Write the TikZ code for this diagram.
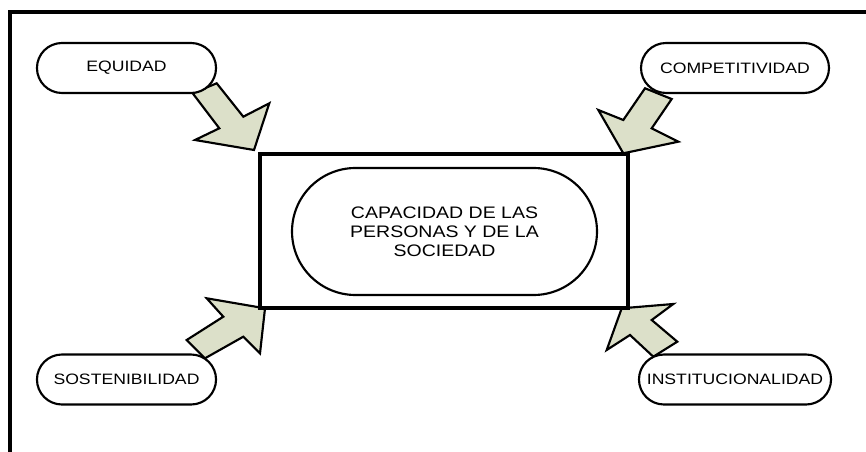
\documentclass[tikz,border=0pt]{standalone}
\usepackage{fontspec}
\setmainfont{Liberation Sans}
\usepackage{tikz}
\definecolor{flechaverde}{RGB}{220,224,201}

\begin{document}
\begin{tikzpicture}[x=0.75pt,y=0.75pt,yscale=-1,xscale=1,
    terminal/.style={draw, line width=1.6pt, fill=white, xscale=1.17, inner sep=0pt,
        minimum height=37.5pt, rounded corners=18.75pt,
        font=\fontsize{11.3}{13}\selectfont},
    flecha/.style={draw, line width=1.6pt, fill=flechaverde}]
    \useasboundingbox (0,0) rectangle (866,452);

    %Outer Frame
    \draw [line width=2.6pt]  (866,12) -- (10,12) -- (10,452) ;

    %Block Arrow (equidad)
    \draw [flecha] (192.7,93.3) -- (219.3,128.3) -- (195,140) -- (254,150) -- (269.3,103.3) -- (243.3,116.7) -- (216.7,83.3) -- cycle ;
    %Block Arrow (competitividad)
    \draw [flecha] (671.7,99) -- (651.7,128.3) -- (678.3,141.7) -- (623.3,153.3) -- (598.3,110) -- (623.3,120) -- (645,88.3) -- cycle ;
    %Block Arrow (sostenibilidad)
    \draw [flecha] (205,358.3) -- (243.3,336.7) -- (260,353.3) -- (265,308.3) -- (206.7,298.3) -- (223.3,316.7) -- (186.7,340) -- cycle ;
    %Block Arrow (institucionalidad)
    \draw [flecha] (653.3,356.7) -- (630,335) -- (606.7,350) -- (621.7,308.3) -- (673.3,304) -- (651.7,320) -- (677.3,341.7) -- cycle ;

    %Rectangle
    \node [draw, line width=2.6pt, minimum width=276pt, minimum height=115.5pt, inner sep=0pt] (caja) at (444,231) {};

    %Flowchart: Terminator
    \node [terminal, minimum width=195.5pt, minimum height=95.25pt, rounded corners=47.6pt,
        align=center, font=\fontsize{12.5}{14.25}\selectfont] (capacidad) at (444.5,231.5)
        {CAPACIDAD DE LAS\\PERSONAS Y DE LA\\SOCIEDAD};

    % Text Node
    \node [terminal, minimum width=114.8pt] (equidad) at (126.5,68) {EQUIDAD};
    % Text Node
    \node [terminal, minimum width=120.5pt] (competitividad) at (735,68) {COMPETITIVIDAD};
    % Text Node
    \node [terminal, minimum width=114.8pt] (sostenibilidad) at (126.5,379.5) {SOSTENIBILIDAD};
    % Text Node
    \node [terminal, minimum width=123.1pt] (institucionalidad) at (735,379.5) {INSTITUCIONALIDAD};

\end{tikzpicture}
\end{document}
